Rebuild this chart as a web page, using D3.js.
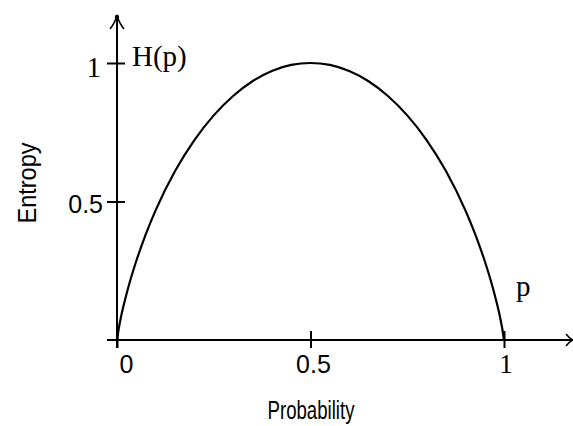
<!DOCTYPE html>
<html lang="en">
<head>
  <meta charset="UTF-8" />
  <title>Binary entropy</title>
  <script src="https://d3js.org/d3.v7.min.js"></script>
  <style>
    body { margin: 0; padding: 0; background: #fff; }
    #chart { width: 573px; height: 426px; }
    .sans { font-family: "Liberation Sans", Arial, sans-serif; fill: #000; }
    .serif { font-family: "Liberation Serif", "Times New Roman", serif; fill: #000; }
  </style>
</head>
<body>
<div id="chart"></div>
<script>
  // values
  const pValues = [0, 0.005, 0.01, 0.02, 0.03, 0.05, 0.075, 0.1, 0.15, 0.2, 0.25, 0.3, 0.35, 0.4, 0.45, 0.5,
                   0.55, 0.6, 0.65, 0.7, 0.75, 0.8, 0.85, 0.9, 0.925, 0.95, 0.97, 0.98, 0.99, 0.995, 1];
  const hValues = [0, 0.045, 0.081, 0.141, 0.194, 0.286, 0.384, 0.469, 0.61, 0.722, 0.811, 0.881, 0.934, 0.971, 0.993, 1,
                   0.993, 0.971, 0.934, 0.881, 0.811, 0.722, 0.61, 0.469, 0.384, 0.286, 0.194, 0.141, 0.081, 0.045, 0];
  const xTicks = [0, 0.5, 1];
  const xTickLabels = ["0", "0.5", "1"];
  const yTicks = [0.5, 1];
  const yTickLabels = ["0.5", "1"];

  const width = 573, height = 426;

  const svg = d3.select("#chart").append("svg")
    .attr("width", width)
    .attr("height", height);

  const x = d3.scaleLinear().domain([0, 1]).range([117, 504]);
  const y = d3.scaleLinear().domain([0, 1]).range([340, 63]);

  // tick marks crossing the axes
  const xAxis = svg.append("g")
    .attr("transform", `translate(0, ${y(0) + 8})`)
    .call(d3.axisBottom(x).tickValues(xTicks).tickSize(0).tickSizeInner(-17).tickFormat(""));
  xAxis.select(".domain").remove();
  xAxis.selectAll(".tick line").attr("stroke", "#000").attr("stroke-width", 2);

  const yAxis = svg.append("g")
    .attr("transform", `translate(${x(0) + 8}, 0)`)
    .call(d3.axisLeft(y).tickValues(yTicks).tickSize(0).tickSizeInner(18).tickFormat(""));
  yAxis.select(".domain").remove();
  yAxis.selectAll(".tick line").attr("stroke", "#000").attr("stroke-width", 2);

  // axis lines with arrows
  svg.append("line")
    .attr("x1", x(0) - 10).attr("x2", 572)
    .attr("y1", y(0)).attr("y2", y(0))
    .attr("stroke", "#000").attr("stroke-width", 2);
  svg.append("line")
    .attr("x1", x(0)).attr("x2", x(0))
    .attr("y1", y(0) + 8).attr("y2", 16)
    .attr("stroke", "#000").attr("stroke-width", 2);

  svg.append("path")
    .attr("d", `M${x(0) - 7},29 Q${x(0) - 2},23 ${x(0)},15 Q${x(0) + 2},23 ${x(0) + 7},29`)
    .attr("fill", "none").attr("stroke", "#000").attr("stroke-width", 1.5);
  svg.append("circle").attr("cx", x(0)).attr("cy", 17).attr("r", 2.2).attr("fill", "#000");

  svg.append("path")
    .attr("d", `M566,${y(0) - 6} Q569,${y(0) - 2} 573,${y(0)} Q569,${y(0) + 2} 566,${y(0) + 6}`)
    .attr("fill", "none").attr("stroke", "#000").attr("stroke-width", 1.5);

  // entropy curve
  const pts = pValues.map((p, i) => [p, hValues[i]]);
  svg.append("path")
    .datum(pts)
    .attr("fill", "none")
    .attr("stroke", "#000")
    .attr("stroke-width", 2.2)
    .attr("d", d3.line().x(d => x(d[0])).y(d => y(d[1])).curve(d3.curveMonotoneX));

  // tick labels
  const xLabelDx = [9.5, 3, 2];
  svg.selectAll(".xlab")
    .data(xTicks)
    .enter().append("text")
    .attr("class", (d, i) => i === 2 ? "serif" : "sans")
    .attr("x", (d, i) => x(d) + xLabelDx[i])
    .attr("y", 373)
    .attr("text-anchor", "middle")
    .style("font-size", (d, i) => i === 2 ? "27px" : "25px")
    .text((d, i) => xTickLabels[i]);

  svg.selectAll(".ylab")
    .data(yTicks)
    .enter().append("text")
    .attr("class", d => d === 1 ? "serif" : "sans")
    .attr("x", d => d === 1 ? 101 : 103)
    .attr("y", d => y(d) + (d === 1 ? 14 : 11))
    .attr("text-anchor", "end")
    .style("font-size", d => d === 1 ? "29px" : "25px")
    .text((d, i) => yTickLabels[i]);

  // curve labels
  svg.append("text")
    .attr("class", "serif")
    .attr("x", 132).attr("y", 66)
    .style("font-size", "29px")
    .text("H(p)");
  svg.append("text")
    .attr("class", "serif")
    .attr("x", 516).attr("y", 296)
    .style("font-size", "29px")
    .text("p");

  // axis titles
  svg.append("text")
    .attr("class", "sans")
    .attr("x", 311).attr("y", 419)
    .attr("text-anchor", "middle")
    .attr("textLength", 87)
    .attr("lengthAdjust", "spacingAndGlyphs")
    .style("font-size", "26px")
    .text("Probability");
  svg.append("text")
    .attr("class", "sans")
    .attr("transform", "translate(36, 183) rotate(-90)")
    .attr("text-anchor", "middle")
    .attr("textLength", 81)
    .attr("lengthAdjust", "spacingAndGlyphs")
    .style("font-size", "26px")
    .text("Entropy");
</script>
</body>
</html>
